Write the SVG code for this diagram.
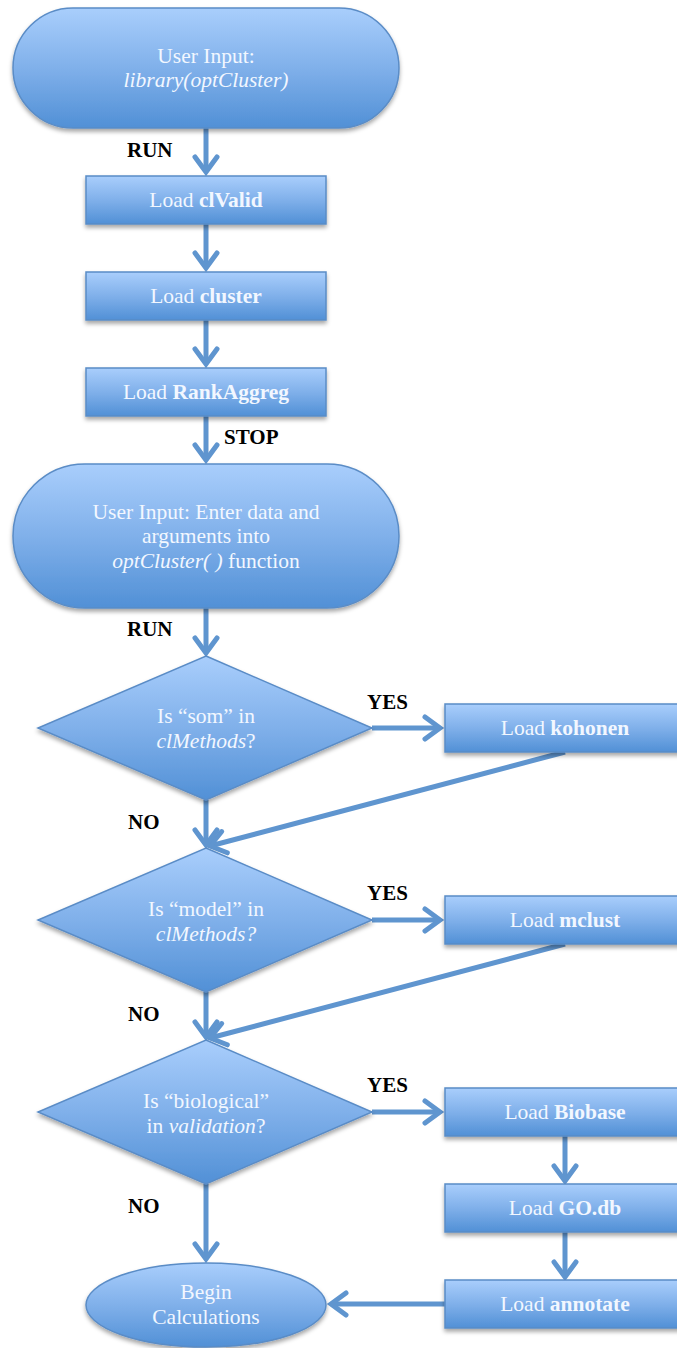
<svg xmlns="http://www.w3.org/2000/svg" width="677" height="1348" viewBox="0 0 677 1348">
<defs>
<linearGradient id="g" x1="0" y1="0" x2="0" y2="1">
<stop offset="0" stop-color="#a9cefc"/>
<stop offset="0.5" stop-color="#80b0ea"/>
<stop offset="1" stop-color="#5190d6"/>
</linearGradient>
<filter id="sh" x="-10%" y="-10%" width="120%" height="130%">
<feDropShadow dx="0" dy="3" stdDeviation="2" flood-color="#000" flood-opacity="0.35"/>
</filter>
<marker id="ah" markerUnits="userSpaceOnUse" markerWidth="30" markerHeight="30" viewBox="-20 -15 30 30" refX="0" refY="0" orient="auto" overflow="visible">
<path d="M-15,-11 L0,0 L-15,11" fill="none" stroke="#5f95cf" stroke-width="5" stroke-linecap="round" stroke-linejoin="miter"/>
</marker>
<style>
.sh{fill:url(#g);stroke:#5a8cc6;stroke-width:1.5;filter:url(#sh)}
.t{font-family:"Liberation Serif","Times New Roman",serif;font-size:21.5px;fill:#f2f7ff;text-anchor:middle}
.i{font-style:italic}
.b{font-weight:bold}
.lb{font-family:"Liberation Serif","Times New Roman",serif;font-size:21px;font-weight:bold;fill:#000}
.c{fill:none;stroke:#5f95cf;stroke-width:5;marker-end:url(#ah)}
</style>
</defs>
<rect width="677" height="1348" fill="#fff"/>

<g id="connectors">
<line class="c" x1="206" y1="128" x2="206" y2="172"/>
<line class="c" x1="206" y1="224" x2="206" y2="268"/>
<line class="c" x1="206" y1="320" x2="206" y2="364"/>
<line class="c" x1="206" y1="416" x2="206" y2="460"/>
<line class="c" x1="206" y1="608" x2="206" y2="653"/>
<line class="c" x1="372" y1="728" x2="440" y2="728"/>
<line class="c" x1="565" y1="752" x2="210" y2="846"/>
<line class="c" x1="206" y1="800" x2="206" y2="845"/>
<line class="c" x1="372" y1="920" x2="440" y2="920"/>
<line class="c" x1="565" y1="944" x2="210" y2="1038"/>
<line class="c" x1="206" y1="992" x2="206" y2="1037"/>
<line class="c" x1="372" y1="1112" x2="440" y2="1112"/>
<line class="c" x1="565" y1="1136" x2="565" y2="1181"/>
<line class="c" x1="565" y1="1232" x2="565" y2="1277"/>
<line class="c" x1="206" y1="1184" x2="206" y2="1259"/>
<line class="c" x1="445" y1="1304" x2="331" y2="1304"/>
</g>

<g id="labels">
<text class="lb" x="127" y="157">RUN</text>
<text class="lb" x="224" y="444">STOP</text>
<text class="lb" x="127" y="636">RUN</text>
<text class="lb" x="367" y="709">YES</text>
<text class="lb" x="128" y="829">NO</text>
<text class="lb" x="367" y="900">YES</text>
<text class="lb" x="128" y="1021">NO</text>
<text class="lb" x="367" y="1092">YES</text>
<text class="lb" x="128" y="1213">NO</text>
</g>

<g id="start">
<rect class="sh" x="13" y="8" width="386" height="120" rx="60" ry="60"/>
<text class="t" x="206" y="63">User Input:</text>
<text class="t i" x="206" y="87">library(optCluster)</text>
</g>

<g id="clValid">
<rect class="sh" x="86" y="176" width="240" height="48"/>
<text class="t" x="206" y="207">Load <tspan class="b">clValid</tspan></text>
</g>
<g id="cluster">
<rect class="sh" x="86" y="272" width="240" height="48"/>
<text class="t" x="206" y="303">Load <tspan class="b">cluster</tspan></text>
</g>
<g id="RankAggreg">
<rect class="sh" x="86" y="368" width="240" height="48"/>
<text class="t" x="206" y="399">Load <tspan class="b">RankAggreg</tspan></text>
</g>

<g id="input">
<rect class="sh" x="13" y="464" width="386" height="144" rx="72" ry="72"/>
<text class="t" x="206" y="519">User Input: Enter data and</text>
<text class="t" x="206" y="543">arguments into</text>
<text class="t" x="206" y="568"><tspan class="i">optCluster( )</tspan> function</text>
</g>

<g id="som">
<polygon class="sh" points="206,656 372,728 206,800 38,728"/>
<text class="t" x="206" y="723">Is “som” in</text>
<text class="t" x="206" y="748"><tspan class="i">clMethods</tspan>?</text>
</g>
<g id="kohonen">
<rect class="sh" x="445" y="704" width="240" height="48"/>
<text class="t" x="565" y="735">Load <tspan class="b">kohonen</tspan></text>
</g>

<g id="model">
<polygon class="sh" points="206,848 372,920 206,992 38,920"/>
<text class="t" x="206" y="916">Is “model” in</text>
<text class="t i" x="206" y="941">clMethods?</text>
</g>
<g id="mclust">
<rect class="sh" x="445" y="896" width="240" height="48"/>
<text class="t" x="565" y="927">Load <tspan class="b">mclust</tspan></text>
</g>

<g id="biological">
<polygon class="sh" points="206,1040 372,1112 206,1184 38,1112"/>
<text class="t" x="206" y="1108">Is “biological”</text>
<text class="t" x="206" y="1133">in <tspan class="i">validation</tspan>?</text>
</g>
<g id="Biobase">
<rect class="sh" x="445" y="1088" width="240" height="48"/>
<text class="t" x="565" y="1119">Load <tspan class="b">Biobase</tspan></text>
</g>
<g id="GOdb">
<rect class="sh" x="445" y="1184" width="240" height="48"/>
<text class="t" x="565" y="1215">Load <tspan class="b">GO.db</tspan></text>
</g>
<g id="annotate">
<rect class="sh" x="445" y="1280" width="240" height="48"/>
<text class="t" x="565" y="1311">Load <tspan class="b">annotate</tspan></text>
</g>

<g id="begin">
<ellipse class="sh" cx="206" cy="1305" rx="120" ry="42"/>
<text class="t" x="206" y="1299">Begin</text>
<text class="t" x="206" y="1324">Calculations</text>
</g>
</svg>
